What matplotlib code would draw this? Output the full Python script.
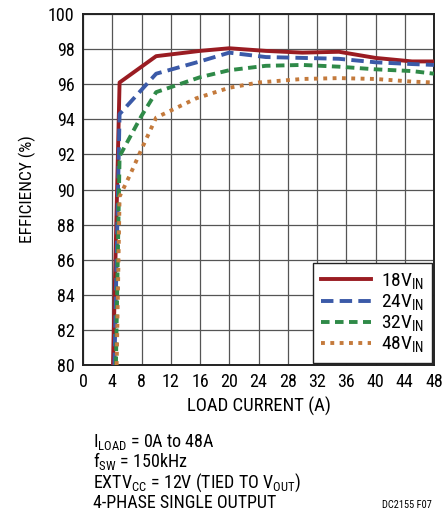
import matplotlib
matplotlib.use("Agg")
import matplotlib.pyplot as plt
from matplotlib import font_manager

# prefer a condensed sans if one is installed
have = {f.name for f in font_manager.fontManager.ttflist}
cands = ['Liberation Sans Narrow', 'Roboto Condensed', 'Open Sans Condensed',
         'DejaVu Sans Condensed', 'Roboto', 'Liberation Sans']
fam = [c for c in cands if c in have] + ['DejaVu Sans']
plt.rcParams['font.family'] = fam
plt.rcParams['font.stretch'] = 'condensed'

# load current (A) / efficiency (%)
i18 = [4.1, 5.0, 10.0, 16.0, 20.0, 25.0, 30.0, 35.0, 40.0, 45.0, 48.0]
e18 = [80.0, 96.1, 97.6, 97.9, 98.05, 97.9, 97.8, 97.85, 97.5, 97.3, 97.3]

i24 = [4.3, 5.0, 10.0, 16.0, 20.0, 25.0, 30.0, 35.0, 40.0, 45.0, 48.0]
e24 = [80.0, 94.3, 96.6, 97.3, 97.8, 97.55, 97.5, 97.45, 97.25, 97.15, 97.1]

i32 = [4.5, 5.0, 8.0, 10.0, 16.0, 20.0, 25.0, 30.0, 35.0, 40.0, 45.0, 48.0]
e32 = [80.0, 91.9, 94.2, 95.55, 96.4, 96.8, 97.05, 97.1, 97.0, 96.85, 96.75, 96.6]

i48 = [4.6, 5.0, 6.5, 8.0, 10.0, 12.5, 15.5, 20.0, 24.0, 30.0, 35.0, 40.0, 45.0, 48.0]
e48 = [80.0, 89.6, 90.9, 92.3, 94.1, 94.6, 95.2, 95.8, 96.1, 96.3, 96.35, 96.3, 96.15, 96.1]

labels = [r'18V$_{\mathregular{IN}}$', r'24V$_{\mathregular{IN}}$',
          r'32V$_{\mathregular{IN}}$', r'48V$_{\mathregular{IN}}$']
colors = ['#9a1c22', '#3b5aa8', '#2f8a48', '#c47a3c']

xticks = list(range(0, 49, 4))
yticks = list(range(80, 101, 2))

fig = plt.figure(figsize=(4.43, 5.2), dpi=100)
ax = fig.add_axes([0.1874, 0.298, 0.7923, 0.675])

styles = [dict(ls='-'),
          dict(ls=(0, (3.2, 1.6))),
          dict(ls=(0, (2.2, 1.4))),
          dict(ls=(0, (1.0, 1.4)))]
data = [(i18, e18), (i24, e24), (i32, e32), (i48, e48)]
handles = []
for (x, y), c, st, lb in zip(data, colors, styles, labels):
    ln, = ax.plot(x, y, color=c, lw=2.8, label=lb, zorder=3,
                  dash_capstyle='butt', **st)
    handles.append(ln)

ax.set_xlim(0, 48)
ax.set_ylim(80, 100)
ax.set_xticks(xticks)
ax.set_yticks(yticks)
ax.grid(True, color='#555555', lw=0.9)
ax.tick_params(length=0, labelsize=13, pad=6)
for s in ax.spines.values():
    s.set_linewidth(1.4)
    s.set_color('#222222')

ax.set_xlabel('LOAD CURRENT (A)', fontsize=13.5, labelpad=4)
ax.set_ylabel('EFFICIENCY (%)', fontsize=12.5, labelpad=9)

leg = ax.legend(handles=handles, loc='lower right', fontsize=14,
                handlelength=2.6, handletextpad=0.5, labelspacing=0.05,
                borderaxespad=0.1, fancybox=False, framealpha=1,
                edgecolor='#222222', borderpad=0.4)
leg.get_frame().set_linewidth(1.0)

notes = [r'I$_{\mathregular{LOAD}}$ = 0A to 48A',
         r'f$_{\mathregular{SW}}$ = 150kHz',
         r'EXTV$_{\mathregular{CC}}$ = 12V (TIED TO V$_{\mathregular{OUT}}$)',
         '4-PHASE SINGLE OUTPUT']
for k, t in enumerate(notes):
    fig.text(93 / 443, 1 - (447 + 20.5 * k) / 520, t, fontsize=13,
             ha='left', va='baseline')
fig.text(432 / 443, 1 - 508 / 520, 'DC2155 F07', fontsize=7.5,
         ha='right', va='baseline')

fig.savefig('out.png', dpi=100)
